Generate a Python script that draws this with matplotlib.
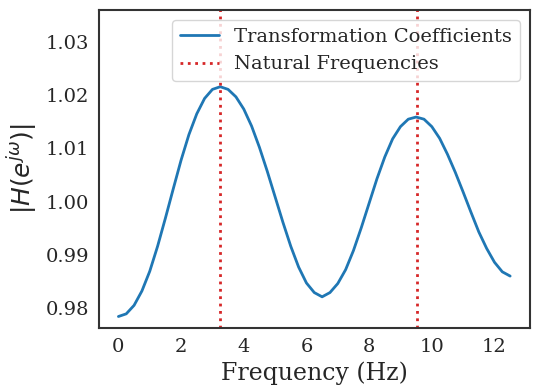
import matplotlib
matplotlib.use("Agg")
import matplotlib.pyplot as plt
import seaborn as sns
import numpy as np

# frequency axis (Hz) and magnitude
freq = np.arange(0, 12.51, 0.25)
mag = [0.9784, 0.9789, 0.9805, 0.9832, 0.9869, 0.9916, 0.9969, 1.0024,
       1.0078, 1.0126, 1.0165, 1.0194, 1.0211, 1.0216, 1.0211, 1.0197,
       1.0174, 1.0142, 1.0102, 1.0057, 1.0009, 0.9961, 0.9916, 0.9877,
       0.9847, 0.9829, 0.9821, 0.9829, 0.9846, 0.9872, 0.9908, 0.9951,
       0.9997, 1.0043, 1.0084, 1.0118, 1.0141, 1.0155, 1.0159, 1.0155,
       1.0141, 1.0119, 1.0089, 1.0055, 1.0018, 0.9980, 0.9943, 0.9912,
       0.9886, 0.9868, 0.9860]
natural_freqs = [3.25, 9.52]

sns.set_style("white")
plt.rcParams['font.family'] = 'serif'

fig = plt.figure(figsize=(5.4, 3.9), dpi=100)
ax = fig.add_axes([0.183, 0.159, 0.798, 0.815])

ax.plot(freq, mag, color='#1f77b4', lw=2, solid_joinstyle='round',
        label='Transformation Coefficients')
for i, f in enumerate(natural_freqs):
    ax.axvline(f, color='#d62728', ls=':', lw=2,
               label='Natural Frequencies' if i == 0 else None)

ax.set_ylim(top=1.036)
ax.set_xticks([0, 2, 4, 6, 8, 10, 12])
ax.set_yticks([0.98, 0.99, 1.00, 1.01, 1.02, 1.03])
ax.tick_params(labelsize=14)
ax.set_xlabel('Frequency (Hz)', fontsize=17)
ax.set_ylabel(r'$|H(e^{j\omega})|$', fontsize=18)
for s in ax.spines.values():
    s.set_linewidth(1.5)
    s.set_color('#333333')
ax.legend(loc='upper right', fontsize=14)

fig.savefig('out.png')
